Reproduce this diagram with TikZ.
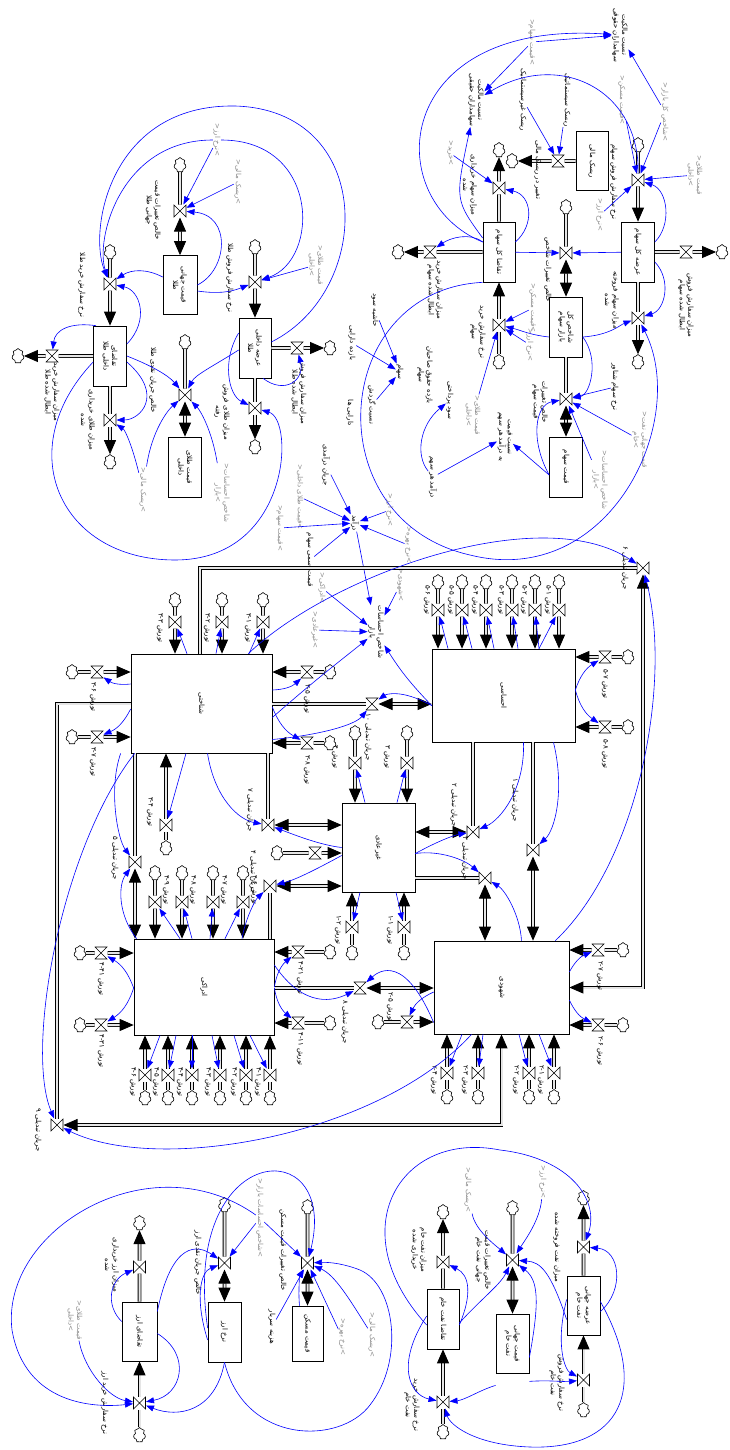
\documentclass[tikz,border=0pt]{standalone}
\usepackage{fontspec}
\usetikzlibrary{arrows.meta,shapes.symbols,calc}
\newfontfamily\arabicfont[Script=Arabic]{DejaVu Sans}
\TeXXeTstate=1
\newcommand{\fa}[1]{\beginR #1\endR}
\tikzset{
  lbl/.style={font=\arabicfont\fontsize{7}{8.5}\selectfont, rotate=-90, align=center, inner sep=0.5pt},
  shd/.style={lbl, text=black!45},
  stock/.style={draw, fill=white, line width=0.7pt, inner sep=0pt},
  pipe/.style={draw=black, line width=0.8pt, double=black!10, double distance=2pt},
  pipeto/.style={pipe, -{Triangle[width=12pt,length=14pt]}},
  pipeboth/.style={pipe, {Triangle[width=12pt,length=14pt]}-{Triangle[width=12pt,length=14pt]}},
  link/.style={draw=blue, line width=0.6pt, -{Triangle[width=6pt,length=8pt]}},
  src/.style={cloud, cloud puffs=7, aspect=0.8, draw, fill=white, line width=0.6pt, minimum width=12pt, minimum height=15pt, inner sep=0pt},
  vv/.style={minimum size=13pt, inner sep=0pt, outer sep=0pt,
    path picture={\draw[fill=white, line width=0.6pt] ([shift={(-6pt,-6pt)}]path picture bounding box.center) -- ++(0pt,12pt) -- ++(12pt,-12pt) -- ++(0pt,12pt) -- cycle;}},
  vh/.style={minimum size=13pt, inner sep=0pt, outer sep=0pt,
    path picture={\draw[fill=white, line width=0.6pt] ([shift={(-6pt,-6pt)}]path picture bounding box.center) -- ++(12pt,0pt) -- ++(-12pt,12pt) -- ++(12pt,0pt) -- cycle;}},
}

\begin{document}
\begin{tikzpicture}[x=1pt,y=-1pt]
\useasboundingbox (0,0) rectangle (729,1450);

% ---------------- gold
\node[stock, minimum width=34pt, minimum height=59pt] (gw) at (180,285) {};
\node[lbl] (gwt) at (gw) {\fa{قیمت جهانی}\\\fa{طلا}};
\node[stock, minimum width=32pt, minimum height=60pt] (gs) at (255,348) {};
\node[lbl] (gst) at (gs) {\fa{عرضه داخلی}\\\fa{طلا}};
\node[stock, minimum width=33pt, minimum height=60pt] (gd) at (110,356) {};
\node[lbl] (gdt) at (gd) {\fa{تقاضای}\\\fa{داخلی طلا}};
\node[stock, minimum width=33pt, minimum height=60pt] (gp) at (185,467) {};
\node[lbl] (gpt) at (gp) {\fa{قیمت طلای}\\\fa{داخلی}};
\node[src] (gwc) at (180,165) {};
\node[vv] (gwv) at (180,211) {};
\node[src] (gsc1) at (255,247) {};
\node[vv] (gsv1) at (255,282) {};
\node[vh] (gsv2) at (297,348) {};
\node[src] (gsc2) at (330,348) {};
\node[vv] (gsv3) at (255,408) {};
\node[src] (gsc3) at (255,447) {};
\node[src] (gdc1) at (110,252) {};
\node[vv] (gdv1) at (110,284) {};
\node[vh] (gdv2) at (52,356) {};
\node[src] (gdc2) at (18,356) {};
\node[vv] (gdv3) at (110,420) {};
\node[src] (gdc3) at (110,462) {};
\node[src] (gpc) at (185,342) {};
\node[vv] (gpv) at (185,395) {};
\draw[pipeboth] (gwc) -- (gwv) -- (gw);
\draw[pipeto] (gsc1) -- (gsv1) -- (gs);
\draw[pipeto] (gs) -- (gsv2) -- (gsc2);
\draw[pipeto] (gs) -- (gsv3) -- (gsc3);
\draw[pipeto] (gdc1) -- (gdv1) -- (gd);
\draw[pipeto] (gd) -- (gdv2) -- (gdc2);
\draw[pipeto] (gd) -- (gdv3) -- (gdc3);
\draw[pipeboth] (gpc) -- (gpv) -- (gp);
\node[lbl] (gwl) at (153,210) {\fa{خالص تغییرات قیمت}\\\fa{جهانی طلا}};
\node[lbl] (gsl1) at (230,278) {\fa{نرخ سفارش فروش طلا}};
\node[lbl] (gsl2) at (299,392) {\fa{میزان سفارش فروش}\\\fa{ابطال شده طلا}};
\node[lbl] (gsl3) at (222,412) {\fa{میزان طلای فروش}\\\fa{رفته}};
\node[lbl] (gdl1) at (82,285) {\fa{نرخ سفارش خرید طلا}};
\node[lbl] (gdl2) at (52,392) {\fa{میزان سفارش خرید}\\\fa{ابطال شده طلا}};
\node[lbl] (gdl3) at (88,420) {\fa{میزان طلای خریداری}\\\fa{شده}};
\node[lbl] (gpl) at (153,380) {\fa{خالص جریان نقدی طلا}};
\node[shd] (gx1) at (217,140) {<\fa{نرخ ارز}>};
\node[shd] (gx2) at (238,182) {<\fa{ریسک مالی}>};
\node[shd] (gx3) at (316,265) {<\fa{قیمت طلای}\\\fa{داخلی}>};
\node[shd] (gx4) at (143,490) {<\fa{ریسک مالی}>};
\node[shd] (gx5) at (222,493) {<\fa{شاخص احساسات}\\\fa{بازار}>};
\draw[link] (gx1) -- (gwv);
\draw[link] (gx2) -- (gwv);
\draw[link] (gw.east) .. controls (228,270) and (232,215) .. (gwv);
\draw[link] ([yshift=8pt]gw.west) to[bend right=30] (gdv1);
\draw[link] ([yshift=-6pt]gw.east) to[bend right=15] (gsv1);
\draw[link] (gx3) -- (gsv1);
\draw[link] ([yshift=6pt]gs.east) .. controls (375,290) and (375,110) .. (235,106) .. controls (110,104) and (88,230) .. (gdv1);
\draw[link] (gx1) .. controls (120,140) and (95,240) .. (gdv1);
\draw[link] (gx1) .. controls (320,140) and (320,260) .. (gsv1);
\draw[link] ([xshift=8pt]gs.south) .. controls (285,395) and (305,380) .. (gsv2);
\draw[link] ([yshift=15pt]gs.west) .. controls (222,360) and (228,395) .. (gsv3);
\draw[link] ([yshift=-2pt]gs.west) .. controls (215,365) and (195,375) .. (gpv);
\draw[link] (gd.east) .. controls (150,365) and (168,375) .. (gpv);
\draw[link] ([yshift=-6pt]gd.east) .. controls (165,395) and (140,420) .. (gdv3);
\draw[link] ([xshift=-14pt]gd.north) .. controls (70,322) and (55,330) .. (gdv2);
\draw[link] (gx4) .. controls (152,430) and (168,410) .. (gpv);
\draw[link] (gx4) .. controls (132,445) and (125,430) .. (gdv3);
\draw[link] (gx5) .. controls (212,430) and (200,410) .. (gpv);
\draw[link] ([yshift=-6pt]gd.west) .. controls (10,450) and (60,560) .. (175,560) .. controls (290,560) and (295,420) .. (gsv3);
\draw[link] ([yshift=12pt]gd.east) .. controls (150,320) and (140,290) .. (gdv1);

% ---------------- stock market
\node[stock, minimum width=32pt, minimum height=59pt] (rk) at (592,161) {};
\node[lbl] (rkt) at (rk) {\fa{ریسک مالی}};
\node[stock, minimum width=32pt, minimum height=60pt] (ts) at (499,252) {};
\node[lbl] (tst) at (ts) {\fa{تقاضا کل سهام}};
\node[stock, minimum width=33pt, minimum height=60pt] (es) at (638,252) {};
\node[lbl] (est) at (es) {\fa{عرضه کل سهام}};
\node[stock, minimum width=33pt, minimum height=60pt] (ix) at (566,327) {};
\node[lbl] (ixt) at (ix) {\fa{شاخص کل}\\\fa{بازار سهام}};
\node[stock, minimum width=33pt, minimum height=60pt] (sp) at (566,467) {};
\node[lbl] (spt) at (sp) {\fa{قیمت سهام}};
\node[vh] (rkv) at (558,161) {};
\node[src] (rkc) at (512,161) {};
\node[src] (esc1) at (638,145) {};
\node[vv] (esv1) at (638,180) {};
\node[vh] (esv2) at (686,252) {};
\node[src] (esc2) at (722,252) {};
\node[vv] (esv3) at (638,318) {};
\node[src] (esc3) at (638,362) {};
\node[vv] (tsv1) at (499,188) {};
\node[src] (tsc1) at (499,150) {};
\node[vh] (tsv2) at (430,252) {};
\node[src] (tsc2) at (398,252) {};
\node[vv] (tsv3) at (499,325) {};
\node[src] (tsc3) at (499,362) {};
\node[src] (ixc) at (566,207) {};
\node[vv] (ixv) at (566,253) {};
\node[vv] (spv) at (566,399) {};
\draw[pipeto] (rk) -- (rkv) -- (rkc);
\draw[pipeto] (esc1) -- (esv1) -- (es);
\draw[pipeto] (es) -- (esv2) -- (esc2);
\draw[pipeto] (es) -- (esv3) -- (esc3);
\draw[pipeto] (ts) -- (tsv1) -- (tsc1);
\draw[pipeto] (ts) -- (tsv2) -- (tsc2);
\draw[pipeto] (tsc3) -- (tsv3) -- (ts);
\draw[pipeboth] (ixc) -- (ixv) -- (ix);
\draw[pipeboth] (ix) -- (spv) -- (sp);
\node[lbl] (ow1) at (620,35) {\fa{نسبت مالکیت}\\\fa{سهامداران حقوقی}};
\node[lbl] (ow2) at (476,100) {\fa{نسبت مالکیت}\\\fa{سهامداران حقیقی}};
\node[lbl] (sys) at (567,100) {\fa{ریسک سیستماتیک}};
\node[lbl] (usy) at (523,100) {\fa{ریسک غیرسیستماتیک}};
\node[lbl] (rkl) at (538,170) {\fa{تغییر در ریسک مالی}};
\node[lbl] (tsl1) at (470,185) {\fa{میزان سهام خریداری}\\\fa{شده}};
\node[lbl] (esl1) at (614,182) {\fa{نرخ سفارش فروش سهام}};
\node[lbl] (ixl) at (548,270) {\fa{خالص تغییرات شاخص}};
\node[lbl] (esl3) at (612,300) {\fa{میزان سهام فروخته}\\\fa{شده}};
\node[lbl] (esl2) at (686,305) {\fa{میزان سفارش فروش}\\\fa{ابطال شده سهام}};
\node[lbl] (flt) at (615,387) {\fa{نرخ سهام شناور}};
\node[lbl] (spl) at (540,402) {\fa{خالص تغییرات}\\\fa{قیمت سهام}};
\node[lbl] (tsl2) at (435,290) {\fa{میزان سفارش خرید}\\\fa{ابطال شده سهام}};
\node[lbl] (tsl3) at (478,332) {\fa{نرخ سفارش خرید}\\\fa{سهام}};
\node[shd] (sx1) at (532,42) {<\fa{قیمت سهام}>};
\node[shd] (sx2) at (450,153) {<\fa{خرید}>};
\node[shd] (sx3) at (622,100) {<\fa{قیمت مسکن}>};
\node[shd] (sx4) at (665,112) {<\fa{شاخص کل بازار}>};
\node[shd] (sx5) at (695,175) {<\fa{قیمت طلای}\\\fa{داخلی}>};
\node[shd] (sx6) at (600,215) {<\fa{نرخ ارز}>};
\node[shd] (sx7) at (533,308) {<\fa{قیمت مسکن}>};
\node[shd] (sx8) at (530,345) {<\fa{نرخ ارز}>};
\node[shd] (sx9) at (473,415) {<\fa{قیمت طلای}\\\fa{داخلی}>};
\node[shd] (sx10) at (640,440) {<\fa{قیمت جهانی نفت}\\\fa{خام}>};
\node[shd] (sx11) at (600,480) {<\fa{شاخص احساسات}\\\fa{بازار}>};
\node[lbl] (pm) at (375,310) {\fa{حاشیه سود}};
\node[lbl] (roa) at (352,343) {\fa{بازده دارایی}};
\node[lbl] (ast) at (350,413) {\fa{دارایی ها}};
\node[lbl] (stk) at (400,372) {\fa{سهام}};
\node[lbl] (trn) at (372,405) {\fa{نسبت گردش}};
\node[lbl] (roe) at (425,375) {\fa{بازده حقوق صاحبان}\\\fa{سهام}};
\node[lbl] (dps) at (450,400) {\fa{سود پرداختی}};
\node[lbl] (pe) at (505,437) {\fa{نسبت قیمت}\\\fa{به درآمد هر سهم}};
\node[lbl] (eps) at (433,477) {\fa{درآمد هر سهم}};
\draw[link] (sys) -- (rkv);
\draw[link] (usy) -- (rkv);
\draw[link] (sx3) -- (esv1);
\draw[link] (sx4) -- (esv1);
\draw[link] (sx5) -- (esv1);
\draw[link] (sx6) -- (esv1);
\draw[link] ([yshift=10pt]es.east) .. controls (672,225) and (668,190) .. (esv1);
\draw[link] (sx1) -- (ow1);
\draw[link] (sx1) -- (ow2);
\draw[link] (sx4) -- (ow1);
\draw[link] ([yshift=10pt]ts.west) .. controls (380,200) and (390,20) .. (ow1);
\draw[link] ([yshift=14pt]ts.west) .. controls (455,200) .. (ow2);
\draw[link] (esv1) .. controls (640,90) and (560,50) .. (ow2);
\draw[link] (sx2) -- (tsv1);
\draw[link] ([yshift=10pt]ts.east) .. controls (535,225) and (532,195) .. (tsv1);
\draw[link] ([yshift=10pt]ts.west) .. controls (470,232) and (450,238) .. (tsv2);
\draw[link] (ts) -- (ixv);
\draw[link] (es) -- (ixv);
\draw[link] ([yshift=-8pt]sp.west) .. controls (530,440) and (535,405) .. (spv);
\draw[link] ([yshift=-10pt]ix.east) .. controls (600,360) and (590,395) .. (spv);
\draw[link] (flt) -- (spv);
\draw[link] (sx10) -- (spv);
\draw[link] (sx11) -- (spv);
\draw[link] ([yshift=-10pt]ix.east) .. controls (610,335) and (620,325) .. (esv3);
\draw[link] ([yshift=-10pt]es.east) .. controls (672,280) and (665,310) .. (esv3);
\draw[link] ([yshift=-10pt]ix.west) .. controls (530,335) and (520,330) .. (tsv3);
\draw[link] (sx7) -- (tsv3);
\draw[link] (sx8) -- (tsv3);
\draw[link] (sx9) -- (tsv3);
\draw[link] ([yshift=-8pt]sp.west) -- (pe);
\draw[link] (eps) -- (pe);
\draw[link] (eps) .. controls (415,455) and (420,425) .. (dps);
\draw[link] (pm) -- (stk);
\draw[link] (roa) -- (stk);
\draw[link] (trn) -- (stk);
\draw[link] (ts.south west) .. controls (330,290) and (315,520) .. (470,555) .. controls (610,590) and (690,420) .. (esv3);

% ---------------- income and sentiment
\node[lbl] (mr) at (355,523) {\fa{درآمد}};
\node[lbl] (mrl1) at (326,465) {\fa{جریان درآمدی}};
\node[shd] (mx1) at (300,497) {<\fa{قیمت طلای داخلی}>};
\node[shd] (mx2) at (280,528) {<\fa{قیمت سهام}>};
\node[lbl] (mrl2) at (310,560) {\fa{قیمت اسمی سهام}};
\node[shd] (mx3) at (390,510) {<\fa{نرخ ارز}>};
\node[shd] (mx4) at (408,545) {<\fa{نرخ بهره}>};
\node[lbl] (smi) at (376,632) {\fa{شاخص احساسات}\\\fa{بازار}};
\node[shd] (mx5) at (322,588) {<\fa{ادراکی}>};
\node[shd] (mx6) at (315,630) {<\fa{غیرعادی}>};
\node[shd] (mx7) at (400,585) {<\fa{شهودی}>};
\foreach \n in {mrl1,mx1,mx2,mrl2,mx3,mx4} \draw[link] (\n) -- (mr);
\draw[link] (mr) -- (smi);
\foreach \n in {mx5,mx6,mx7} \draw[link] (\n) -- (smi);

% ---------------- bias boxes
\node[stock, minimum width=141pt, minimum height=99pt] (sh) at (201.5,703.5) {};
\node[lbl] (sht) at (sh) {\fa{شناختی}};
\node[stock, minimum width=143pt, minimum height=93pt] (eh) at (503.5,695.5) {};
\node[lbl] (eht) at (eh) {\fa{احساسی}};
\node[stock, minimum width=73pt, minimum height=89pt] (gh) at (378.5,847.5) {};
\node[lbl] (ght) at (gh) {\fa{غیرعادی}};
\node[stock, minimum width=140pt, minimum height=96pt] (ad) at (204,987) {};
\node[lbl] (adt) at (ad) {\fa{ادراکی}};
\node[stock, minimum width=135pt, minimum height=93pt] (sd) at (501.5,987.5) {};
\node[lbl] (sdt) at (sd) {\fa{شهودی}};

\node[vv] (v1) at (533,850) {};
\node[vv] (v2) at (473,832) {};
\node[vv] (v3) at (485,878) {};
\node[vv] (v4) at (270,886) {};
\node[vv] (v5) at (135,862) {};
\node[vv] (v6) at (643,568) {};
\node[vv] (v7) at (268,825) {};
\node[vh] (v8) at (360,988) {};
\node[vv] (v9) at (57,1125) {};
\node[vh] (v10) at (372,704) {};
\draw[pipeboth] (v1 |- eh.south) -- (v1) -- (v1 |- sd.north);
\draw[pipeboth] (v2 |- eh.south) -- (v2) -- (v2 -| gh.east);
\draw[pipeboth] (v3 -| gh.east) -- (v3) -- (v3 |- sd.north);
\draw[pipeboth] (v4 |- ad.north) -- (v4) -- (v4 -| gh.west);
\draw[pipeboth] (v5 |- sh.south) -- (v5) -- (v5 |- ad.north);
\draw[pipeboth] ([xshift=-1.5pt]sh.north) |- (v6) |- (sd.east);
\draw[pipeboth] (v7 |- sh.south) -- (v7) -- (v7 -| gh.west);
\draw[pipeboth] (v8 -| ad.east) -- (v8) -- (v8 -| sd.west);
\draw[pipeboth] (sh.west) -| (v9) -| (sd.south);
\draw[pipeboth] (v10 -| sh.east) -- (v10) -- (v10 -| eh.west);
\node[lbl] (j1) at (515,800) {\fa{جریان تبدیلی ۱}};
\node[lbl] (j2) at (454,805) {\fa{جریان تبدیلی ۲}};
\node[lbl] (j3) at (465,858) {\fa{جریان تبدیلی ۳}};
\node[lbl] (j4) at (253,872) {\fa{جریان تبدیلی ۴}};
\node[lbl] (j5) at (115,858) {\fa{جریان تبدیلی ۵}};
\node[lbl] (j6) at (625,568) {\fa{جریان تبدیلی ۶}};
\node[lbl] (j7) at (250,810) {\fa{جریان تبدیلی ۷}};
\node[lbl] (j8) at (345,1022) {\fa{جریان تبدیلی ۸}};
\node[lbl] (j9) at (38,1130) {\fa{جریان تبدیلی ۹}};
\node[lbl] (j10) at (368,737) {\fa{جریان تبدیلی ۱۰}};

% inflows of the bias boxes
\foreach \x/\t/\d [count=\i] in {175/۳-۳/12,222/۳-۲/-6,263/۳-۱/-14}{
  \node[src] (shtc\i) at (\x,600) {};
  \node[vv] (shtv\i) at (\x,622) {};
  \node[lbl] (shtl\i) at (\x-15,628) {\fa{تورش \t}};
  \draw[pipeto] (shtc\i) -- (shtv\i) -- (shtv\i |- sh.north);
  \draw[link] ([xshift=\d pt]shtv\i |- sh.north) -- (shtv\i);
}
\foreach \y/\t/\d [count=\i] in {672/۳-۶/12,737/۳-۷/-28}{
  \node[src] (shlc\i) at (72,\y) {};
  \node[vh] (shlv\i) at (97,\y) {};
  \node[lbl] (shll\i) at (93,\y+25) {\fa{تورش \t}};
  \draw[pipeto] (shlc\i) -- (shlv\i) -- (shlv\i -| sh.west);
  \draw[link] ($(shlv\i -| sh.west)+(0,\d)$) to[bend left=20] (shlv\i);
}
\foreach \y/\t/\d [count=\i] in {672/۳-۵/18,743/۳-۸/-36}{
  \node[src] (shrc\i) at (330,\y) {};
  \node[vh] (shrv\i) at (307,\y) {};
  \node[lbl] (shrl\i) at (307,\y+27) {\fa{تورش \t}};
  \draw[pipeto] (shrc\i) -- (shrv\i) -- (shrv\i -| sh.east);
  \draw[link] ($(shrv\i -| sh.east)+(0,\d)$) to[bend right=20] (shrv\i);
}
\node[src] (shbc) at (166,848) {};
\node[vv] (shbv) at (166,825) {};
\node[lbl] (shbl) at (150,812) {\fa{تورش ۳-۴}};
\draw[pipeto] (shbc) -- (shbv) -- (shbv |- sh.south);
\draw[link] ([xshift=20pt]shbv |- sh.south) -- (shbv);

\foreach \x/\t/\d [count=\i] in {438/۵-۶/10,462/۵-۵/10,486/۵-۴/8,512/۵-۳/6,535/۵-۲/4,559/۵-۱/-20}{
  \node[src] (ehtc\i) at (\x,582) {};
  \node[vv] (ehtv\i) at (\x,610) {};
  \node[lbl] (ehtl\i) at (\x-11,600) {\fa{تورش \t}};
  \draw[pipeto] (ehtc\i) -- (ehtv\i) -- (ehtv\i |- eh.north);
  \draw[link] ([xshift=\d pt]ehtv\i |- eh.north) -- (ehtv\i);
}
\foreach \y/\t/\d/\b [count=\i] in {657/۵-۷/33/20,727/۵-۸/-37/-20}{
  \node[src] (ehrc\i) at (628,\y) {};
  \node[vh] (ehrv\i) at (605,\y) {};
  \node[lbl] (ehrl\i) at (605,\y+27) {\fa{تورش \t}};
  \draw[pipeto] (ehrc\i) -- (ehrv\i) -- (ehrv\i -| eh.east);
  \draw[link] ($(ehrv\i -| eh.east)+(0,\d)$) to[bend left=\b] (ehrv\i);
}

\foreach \x/\t/\d [count=\i] in {155/۴-۹/25,182/۴-۸/10,213/۴-۷/-3,243/۴-۶/-18}{
  \node[src] (adtc\i) at (\x,873) {};
  \node[vv] (adtv\i) at (\x,902) {};
  \node[lbl] (adtl\i) at (\x+11,890) {\fa{تورش \t}};
  \draw[pipeto] (adtc\i) -- (adtv\i) -- (adtv\i |- ad.north);
  \draw[link] ([xshift=\d pt]adtv\i |- ad.north) -- (adtv\i);
}
\foreach \y/\t/\d/\b [count=\i] in {953/۴-۴۱/35/-20,1025/۴-۳۱/-37/20}{
  \node[src] (adlc\i) at (80,\y) {};
  \node[vh] (adlv\i) at (101,\y) {};
  \node[lbl] (adll\i) at (101,\y+26) {\fa{تورش \t}};
  \draw[pipeto] (adlc\i) -- (adlv\i) -- (adlv\i -| ad.west);
  \draw[link] ($(adlv\i -| ad.west)+(0,\d)$) to[bend left=\b] (adlv\i);
}
\foreach \y/\t/\d/\b [count=\i] in {952/۴-۲۱/35/20,1023/۴-۱۱/-35/-20}{
  \node[src] (adrc\i) at (330,\y) {};
  \node[vh] (adrv\i) at (298,\y) {};
  \node[lbl] (adrl\i) at (300,\y+26) {\fa{تورش \t}};
  \draw[pipeto] (adrc\i) -- (adrv\i) -- (adrv\i -| ad.east);
  \draw[link] ($(adrv\i -| ad.east)+(0,\d)$) to[bend left=\b] (adrv\i);
}
\foreach \x/\t/\d [count=\i] in {145/۴-۶/15,168/۴-۵/8,192/۴-۴/0,220/۴-۳/-8,246/۴-۲/-12,270/۴-۱/-20}{
  \node[src] (adbc\i) at (\x,1098) {};
  \node[vv] (adbv\i) at (\x,1075) {};
  \node[lbl] (adbl\i) at (\x-12,1082) {\fa{تورش \t}};
  \draw[pipeto] (adbc\i) -- (adbv\i) -- (adbv\i |- ad.south);
  \draw[link] ([xshift=\d pt]adbv\i |- ad.south) -- (adbv\i);
}

\foreach \x/\t/\d [count=\i] in {447/۲-۴/15,478/۲-۳/5,529/۲-۲/-10,554/۲-۱/-15}{
  \node[src] (sdbc\i) at (\x,1097) {};
  \node[vv] (sdbv\i) at (\x,1073) {};
  \node[lbl] (sdbl\i) at (\x-13,1080) {\fa{تورش \t}};
  \draw[pipeto] (sdbc\i) -- (sdbv\i) -- (sdbv\i |- sd.south);
  \draw[link] ([xshift=\d pt]sdbv\i |- sd.south) -- (sdbv\i);
}
\foreach \y/\t/\d/\b [count=\i] in {950/۲-۷/22/20,1025/۲-۶/-25/-20}{
  \node[src] (sdrc\i) at (623,\y) {};
  \node[vh] (sdrv\i) at (598,\y) {};
  \node[lbl] (sdrl\i) at (600,\y+26) {\fa{تورش \t}};
  \draw[pipeto] (sdrc\i) -- (sdrv\i) -- (sdrv\i -| sd.east);
  \draw[link] ($(sdrv\i -| sd.east)+(0,\d)$) to[bend left=\b] (sdrv\i);
}
\node[src] (sdlc) at (378,1022) {};
\node[vh] (sdlv) at (407,1022) {};
\node[lbl] (sdll) at (390,1007) {\fa{تورش ۲-۵}};
\draw[pipeto] (sdlc) -- (sdlv) -- (sdlv -| sd.west);
\draw[link] ($(sdlv -| sd.west)+(0,-30)$) to[bend right=20] (sdlv);

\foreach \x/\t/\d [count=\i] in {355/۴/10,407/۳/-10}{
  \node[src] (ghtc\i) at (\x,733) {};
  \node[vv] (ghtv\i) at (\x,763) {};
  \node[lbl] (ghtl\i) at (\x-20,757) {\fa{تورش \t}};
  \draw[pipeto] (ghtc\i) -- (ghtv\i) -- (ghtv\i |- gh.north);
  \draw[link] ([xshift=\d pt]ghtv\i |- gh.north) -- (ghtv\i);
}
\foreach \x/\t/\d [count=\i] in {352/۱-۲/8,404/۱-۱/-8}{
  \node[src] (ghbc\i) at (\x,953) {};
  \node[vv] (ghbv\i) at (\x,927) {};
  \node[lbl] (ghbl\i) at (\x-14,930) {\fa{تورش \t}};
  \draw[pipeto] (ghbc\i) -- (ghbv\i) -- (ghbv\i |- gh.south);
  \draw[link] ([xshift=\d pt]ghbv\i |- gh.south) -- (ghbv\i);
}
\node[src] (ghlc) at (277,853) {};
\node[vh] (ghlv) at (315,853) {};
\draw[pipeto] (ghlc) -- (ghlv) -- (ghlv -| gh.west);

% links of the conversion flows
\draw[link] ([xshift=-14pt]sd.north east) .. controls (640,860) and (672,680) .. (v6);
\draw[link] ([xshift=-24pt]sh.north east) .. controls (330,575) and (540,500) .. (v6);
\draw[link] ([xshift=-30pt]sd.south) .. controls (380,1135) and (160,1175) .. (v9);
\draw[link] ([xshift=4pt]sh.south west) .. controls (60,850) and (25,1050) .. (v9);
\draw[link] ([xshift=-10pt]sh.south west) .. controls (108,790) and (118,840) .. (v5);
\draw[link] ([xshift=3pt]ad.north west) .. controls (118,915) and (118,885) .. (v5);
\draw[link] ([yshift=-14pt]sh.east) .. controls (315,680) and (335,665) .. (smi);
\draw[link] ([yshift=-10pt]eh.west) .. controls (410,683) and (400,670) .. (smi);
\draw[link] ([yshift=-36pt]sh.east) .. controls (320,735) and (355,725) .. (v10);
\draw[link] ([yshift=-10pt]eh.west) .. controls (400,688) and (385,695) .. (v10);
\draw[link] ([xshift=20pt]eh.south) .. controls (525,790) and (500,820) .. (v2);
\draw[link] ([xshift=50pt]eh.south) .. controls (565,790) and (555,830) .. (v1);
\draw[link] ([yshift=-6pt]gh.east) .. controls (440,850) and (465,860) .. (v3);
\draw[link] ([xshift=20pt]sd.north) .. controls (520,915) and (505,890) .. (v3);
\draw[link] ([yshift=-6pt]gh.east) .. controls (440,840) and (455,835) .. (v2);
\draw[link] ([yshift=22pt]ad.east) .. controls (305,1010) and (335,1000) .. (v8);
\draw[link] ([yshift=-35pt]sd.west) .. controls (405,955) and (380,970) .. (v8);
\draw[link] ([xshift=38pt]ad.north) .. controls (245,920) and (255,900) .. (v4);
\draw[link] ([yshift=-8pt]gh.west) .. controls (315,870) and (295,880) .. (v4);
\draw[link] ([xshift=6pt]sh.south) .. controls (215,800) and (240,820) .. (v7);
\draw[link] (gh.west) .. controls (320,845) and (295,835) .. (v7);

% ---------------- exchange rate and housing
\node[stock, minimum width=35pt, minimum height=59pt] (ed) at (139.5,1331.5) {};
\node[lbl] (edt) at (ed) {\fa{تقاضای ارز}};
\node[stock, minimum width=33pt, minimum height=60pt] (er) at (224.5,1332) {};
\node[lbl] (ert) at (er) {\fa{نرخ ارز}};
\node[stock, minimum width=31pt, minimum height=55pt] (hp) at (307.5,1333.5) {};
\node[lbl] (hpt) at (hp) {\fa{قیمت مسکن}};
\node[vv] (edv1) at (139.5,1267) {};
\node[src] (edc1) at (139.5,1223) {};
\node[src] (edc2) at (139.5,1435) {};
\node[vv] (edv2) at (139.5,1403) {};
\node[src] (erc) at (224.5,1205) {};
\node[vv] (erv) at (224.5,1263) {};
\node[src] (hpc) at (307.5,1207) {};
\node[vv] (hpv) at (307.5,1263) {};
\draw[pipeto] (ed) -- (edv1) -- (edc1);
\draw[pipeto] (edc2) -- (edv2) -- (ed);
\draw[pipeboth] (erc) -- (erv) -- (er);
\draw[pipeboth] (hpc) -- (hpv) -- (hp);
\node[lbl] (edl1) at (112,1265) {\fa{میزان ارز خریداری}\\\fa{شده}};
\node[lbl] (edl2) at (105,1403) {\fa{نرخ سفارش خرید ارز}};
\node[shd] (ex1) at (75,1320) {<\fa{قیمت طلای}\\\fa{داخلی}>};
\node[lbl] (erl) at (198,1263) {\fa{خالص جریان نقدی ارز}};
\node[shd] (ex2) at (260,1218) {<\fa{شاخص احساسات بازار}>};
\node[lbl] (hpl) at (283,1250) {\fa{خالص تغییرات قیمت مسکن}};
\node[lbl] (hc) at (272,1327) {\fa{هزینه سربار}};
\node[shd] (ex3) at (342,1337) {<\fa{نرخ بهره}>};
\draw[link] ([yshift=10pt]ed.west) .. controls (105,1305) and (110,1280) .. (edv1);
\draw[link] ([yshift=-2pt]ed.east) .. controls (192,1355) and (182,1395) .. (edv2);
\draw[link] (ex1) .. controls (85,1372) and (110,1398) .. (edv2);
\draw[link] ([yshift=20pt]ed.east) .. controls (172,1240) and (198,1245) .. (erv);
\draw[link] ([yshift=-8pt]er.west) .. controls (195,1300) and (200,1272) .. (erv);
\draw[link] (ex2) -- (erv);
\draw[link] (ex2) -- (hpv);
\draw[link] (er.south) .. controls (215,1412) and (178,1418) .. (edv2);
\draw[link] ([yshift=4pt]er.west) .. controls (180,1140) and (340,1130) .. (hpv);
\draw[link] (ex2) .. controls (150,1140) and (0,1230) .. (12,1330) .. controls (25,1405) and (95,1408) .. (edv2);
\draw[link] ([xshift=-8pt]hp.north) .. controls (298,1290) and (300,1275) .. (hpv);
\draw[link] (hc) -- (hpv);
\draw[link] (ex3) -- (hpv);
\draw[link] (er.south) .. controls (245,1445) and (340,1445) .. (370,1405) .. controls (405,1360) and (395,1285) .. (360,1270) .. controls (345,1264) and (330,1262) .. (hpv);

% ---------------- crude oil
\node[stock, minimum width=32pt, minimum height=60pt] (od) at (443,1319) {};
\node[lbl] (odt) at (od) {\fa{تقاضا نفت خام}};
\node[stock, minimum width=33pt, minimum height=59pt] (op) at (512.5,1343.5) {};
\node[lbl] (opt) at (op) {\fa{قیمت جهانی}\\\fa{نفت خام}};
\node[stock, minimum width=33pt, minimum height=59pt] (os) at (583.5,1305.5) {};
\node[lbl] (ost) at (os) {\fa{عرضه جهانی}\\\fa{نفت خام}};
\node[vv] (odv1) at (443,1262) {};
\node[src] (odc1) at (443,1212) {};
\node[src] (odc2) at (443,1432) {};
\node[vv] (odv2) at (443,1402) {};
\node[src] (opc) at (512.5,1208) {};
\node[vv] (opv) at (512.5,1260) {};
\node[vv] (osv1) at (583.5,1247) {};
\node[src] (osc1) at (583.5,1198) {};
\node[src] (osc2) at (583.5,1410) {};
\node[vv] (osv2) at (583.5,1380) {};
\draw[pipeto] (od) -- (odv1) -- (odc1);
\draw[pipeto] (odc2) -- (odv2) -- (od);
\draw[pipeboth] (opc) -- (opv) -- (op);
\draw[pipeto] (os) -- (osv1) -- (osc1);
\draw[pipeto] (osc2) -- (osv2) -- (os);
\node[lbl] (odl1) at (419,1250) {\fa{میزان نفت خام}\\\fa{خریداری شده}};
\node[lbl] (opl) at (483,1260) {\fa{خالص تغییرات قیمت}\\\fa{جهانی نفت خام}};
\node[lbl] (odl2) at (412,1405) {\fa{نرخ سفارش خرید}\\\fa{نفت خام}};
\node[shd] (ox1) at (468,1190) {<\fa{ریسک مالی}>};
\node[shd] (ox2) at (543,1182) {<\fa{نرخ ارز}>};
\node[lbl] (osl1) at (557,1247) {\fa{میزان نفت فروخته شده}};
\node[lbl] (osl2) at (557,1383) {\fa{نرخ سفارش فروش}\\\fa{نفت خام}};
\node[shd] (ox3) at (372,1335) {<\fa{ریسک مالی}>};
\draw[link] ([yshift=-6pt]od.east) .. controls (472,1295) and (470,1275) .. (odv1);
\draw[link] ([yshift=-4pt]od.east) .. controls (480,1300) and (500,1285) .. (opv);
\draw[link] (ox1) .. controls (475,1230) and (495,1245) .. (opv);
\draw[link] (ox2) .. controls (540,1220) and (525,1240) .. (opv);
\draw[link] ([yshift=-14pt]os.west) .. controls (550,1270) and (540,1262) .. (opv);
\draw[link] ([yshift=-14pt]op.east) .. controls (540,1300) and (538,1280) .. (opv);
\draw[link] ([yshift=3pt]od.west) .. controls (395,1365) and (410,1395) .. (odv2);
\draw[link] ([yshift=-12pt]op.south west) .. controls (480,1390) and (465,1400) .. (odv2);
\draw[link] ([yshift=-8pt]op.south east) .. controls (550,1380) and (565,1382) .. (osv2);
\draw[link] ([yshift=6pt]os.west) .. controls (555,1345) and (565,1370) .. (osv2);
\draw[link] ([yshift=-6pt]os.east) .. controls (625,1290) and (620,1250) .. (osv1);
\draw[link] ([yshift=-6pt]od.west) .. controls (340,1230) and (400,1130) .. (500,1150) .. controls (570,1158) and (600,1200) .. (osv1);
\draw[link] ([yshift=4pt]os.east) .. controls (650,1390) and (620,1450) .. (530,1447) .. controls (475,1445) and (450,1425) .. (odv2);
\draw[link] (ox3) .. controls (350,1300) and (335,1275) .. (hpv);
\end{tikzpicture}
\end{document}
